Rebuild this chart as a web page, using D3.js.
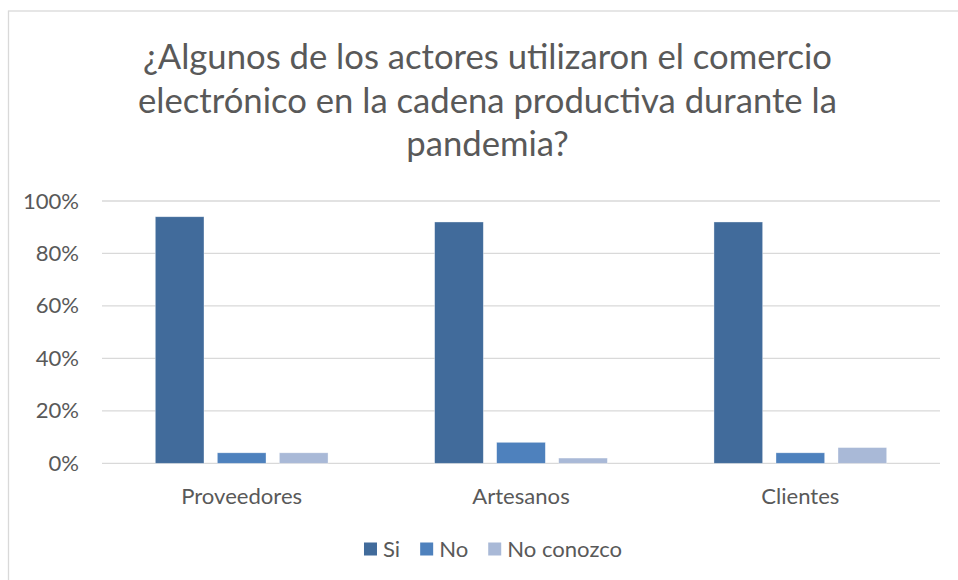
<!DOCTYPE html>
<html>
<head>
<meta charset="utf-8">
<script src="https://cdn.jsdelivr.net/npm/d3@7"></script>
<style>
  body { margin: 0; background: #fff; }
  svg { display: block; font-family: Lato, "Open Sans", sans-serif; }
</style>
</head>
<body>
<svg id="chart" width="958" height="580"></svg>
<script>
const titleLines = ['¿Algunos de los actores utilizaron el comercio', 'electrónico en la cadena productiva durante la', 'pandemia?']
const categories = ['Proveedores', 'Artesanos', 'Clientes']
const seriesNames = ['Si', 'No', 'No conozco']
const siValues = [0.94, 0.92, 0.92]
const noValues = [0.04, 0.08, 0.04]
const noConozcoValues = [0.04, 0.02, 0.06]
const yTicks = [0, 0.2, 0.4, 0.6, 0.8, 1]
const colors = ['#416b9b', '#4e81bd', '#a9b9d7']

const seriesValues = [siValues, noValues, noConozcoValues]
const rows = categories.map((c, i) => ({
  cat: c,
  vals: seriesNames.map((s, j) => ({ key: s, value: seriesValues[j][i] }))
}))

const svg = d3.select('#chart')
const textColor = '#595959'

// chart frame
svg.append('rect')
  .attr('x', 8.5).attr('y', 11)
  .attr('width', 980).attr('height', 600)
  .attr('fill', 'none')
  .attr('stroke', '#d9d9d9')
  .attr('stroke-width', 1.3)

const x0 = d3.scaleBand().domain(categories).range([102, 940]).padding(0)
const x1 = d3.scaleBand().domain(seriesNames)
  .range([53.3, x0.bandwidth() - 53.3])
  .paddingInner(0.215).paddingOuter(0)
const y = d3.scaleLinear().domain([0, 1]).range([463.3, 201])

// gridlines
svg.append('g')
  .selectAll('line')
  .data(yTicks)
  .join('line')
  .attr('x1', 102).attr('x2', 940)
  .attr('y1', d => y(d)).attr('y2', d => y(d))
  .attr('stroke', '#d9d9d9')
  .attr('stroke-width', 1.3)

// fit fonts to the reference text widths
function fitSize(text, target, base) {
  const t = svg.append('text').style('font-size', base + 'px').text(text)
  const w = t.node().getComputedTextLength()
  t.remove()
  return base * target / w
}
const axisSize = fitSize('Proveedores', 121, 18)
const titleSize = fitSize(titleLines[0], 689, 34)

// y axis
const yAxis = d3.axisLeft(y).tickValues(yTicks).tickFormat(d3.format('.0%')).tickSize(0).tickPadding(0)
svg.append('g')
  .attr('transform', 'translate(79,0)')
  .call(yAxis)
  .call(g => g.select('.domain').remove())
  .call(g => g.selectAll('text')
    .attr('fill', textColor)
    .style('font-family', 'Lato, sans-serif')
    .style('font-size', axisSize + 'px'))

// x axis labels
const xAxis = d3.axisBottom(x0).tickSize(0).tickPadding(0)
svg.append('g')
  .attr('transform', 'translate(0,484)')
  .call(xAxis)
  .call(g => g.select('.domain').remove())
  .call(g => g.selectAll('text')
    .attr('fill', textColor)
    .attr('dy', '0.9em')
    .style('font-family', 'Lato, sans-serif')
    .style('font-size', axisSize + 'px'))

// bars
const color = d3.scaleOrdinal().domain(seriesNames).range(colors)
svg.append('g')
  .selectAll('g')
  .data(rows)
  .join('g')
  .attr('transform', d => `translate(${x0(d.cat)},0)`)
  .selectAll('rect')
  .data(d => d.vals)
  .join('rect')
  .attr('x', d => x1(d.key))
  .attr('width', x1.bandwidth())
  .attr('y', d => y(d.value))
  .attr('height', d => y(0) - y(d.value))
  .attr('fill', d => color(d.key))
  .attr('stroke', '#ffffff')
  .attr('stroke-opacity', 0.5)
  .attr('stroke-width', 0.7)

// title
svg.append('text')
  .attr('x', 487.5)
  .attr('y', 69)
  .attr('text-anchor', 'middle')
  .attr('fill', textColor)
  .style('font-size', titleSize + 'px')
  .selectAll('tspan')
  .data(titleLines)
  .join('tspan')
  .attr('x', 487.5)
  .attr('dy', (d, i) => i === 0 ? 0 : 43.5)
  .text(d => d)

// legend
const legend = svg.append('g')
const items = legend.selectAll('g')
  .data(seriesNames)
  .join('g')
items.append('rect')
  .attr('width', 13).attr('height', 13)
  .attr('y', 542.5)
  .attr('fill', d => color(d))
items.append('text')
  .attr('y', 549)
  .attr('dy', '0.35em')
  .attr('x', 19)
  .attr('fill', textColor)
  .style('font-size', axisSize + 'px')
  .text(d => d)
let cursor = 0
const offsets = []
items.each(function () {
  offsets.push(cursor)
  const w = d3.select(this).select('text').node().getComputedTextLength()
  cursor += 19 + w + 20
})
const totalW = cursor - 20
const startX = 493 - totalW / 2
items.attr('transform', (d, i) => `translate(${startX + offsets[i]},0)`)
</script>
</body>
</html>
